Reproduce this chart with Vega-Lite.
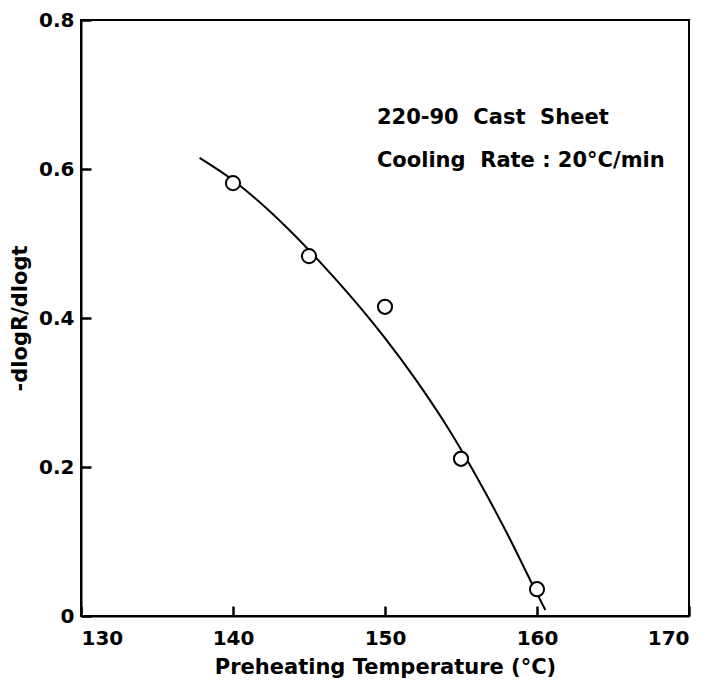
{
  "$schema": "https://vega.github.io/schema/vega-lite/v6.json",
  "width": 608,
  "height": 596,
  "autosize": {"type": "none"},
  "padding": {"left": 81, "top": 20, "right": 18, "bottom": 69},
  "background": "white",
  "config": {
    "view": {"stroke": "black", "strokeWidth": 2},
    "font": "DejaVu Sans",
    "axis": {
      "domainColor": "black", "domainWidth": 2,
      "ticks": true, "tickColor": "black", "tickWidth": 2.5, "tickSize": -10,
      "labelFont": "DejaVu Sans", "labelFontWeight": "bold", "labelFontSize": 20, "labelColor": "black",
      "titleFont": "DejaVu Sans", "titleFontWeight": "bold", "titleFontSize": 21, "titleColor": "black",
      "grid": false
    }
  },
  "datasets": {
    "points": [
      {"T": 140, "v": 0.581},
      {"T": 145, "v": 0.483},
      {"T": 150, "v": 0.415},
      {"T": 155, "v": 0.211},
      {"T": 160, "v": 0.036}
    ],
    "curve": [
      {"T": 137.8, "v": 0.615},
      {"T": 140, "v": 0.585},
      {"T": 142, "v": 0.551},
      {"T": 144, "v": 0.512},
      {"T": 146, "v": 0.469},
      {"T": 148, "v": 0.423},
      {"T": 150, "v": 0.373},
      {"T": 152, "v": 0.318},
      {"T": 154, "v": 0.257},
      {"T": 156, "v": 0.188},
      {"T": 158, "v": 0.112},
      {"T": 160, "v": 0.030},
      {"T": 160.55, "v": 0.008}
    ],
    "notes": [
      {"T": 149.47, "v": 0.660, "label": "220-90\u00a0\u00a0Cast\u00a0\u00a0Sheet"},
      {"T": 149.47, "v": 0.603, "label": "Cooling\u00a0\u00a0Rate\u00a0:\u00a020°C/min"}
    ]
  },
  "layer": [
    {
      "data": {"name": "curve"},
      "mark": {"type": "line", "color": "black", "strokeWidth": 2, "interpolate": "monotone"},
      "encoding": {
        "x": {"field": "T", "type": "quantitative", "scale": {"domain": [130, 170], "nice": false},
          "axis": {"values": [130, 140, 150, 160, 170], "title": "Preheating Temperature (°C)", "labelPadding": 22, "titlePadding": 8}},
        "y": {"field": "v", "type": "quantitative", "scale": {"domain": [0, 0.8], "nice": false},
          "axis": {"values": [0, 0.2, 0.4, 0.6, 0.8], "labelExpr": "datum.value == 0 ? '0' : format(datum.value, '.1f')", "title": "-dlogR/dlogt", "labelPadding": 17, "titlePadding": 8}}
      }
    },
    {
      "data": {"name": "points"},
      "mark": {"type": "point", "shape": "circle", "filled": true, "fill": "white", "stroke": "black", "strokeWidth": 2, "size": 200, "opacity": 1},
      "encoding": {
        "x": {"field": "T", "type": "quantitative"},
        "y": {"field": "v", "type": "quantitative"}
      }
    },
    {
      "data": {"name": "notes"},
      "mark": {"type": "text", "align": "left", "baseline": "alphabetic", "fontSize": 21, "fontWeight": "bold", "font": "DejaVu Sans", "color": "black"},
      "encoding": {
        "x": {"field": "T", "type": "quantitative"},
        "y": {"field": "v", "type": "quantitative"},
        "text": {"field": "label"}
      }
    }
  ]
}
